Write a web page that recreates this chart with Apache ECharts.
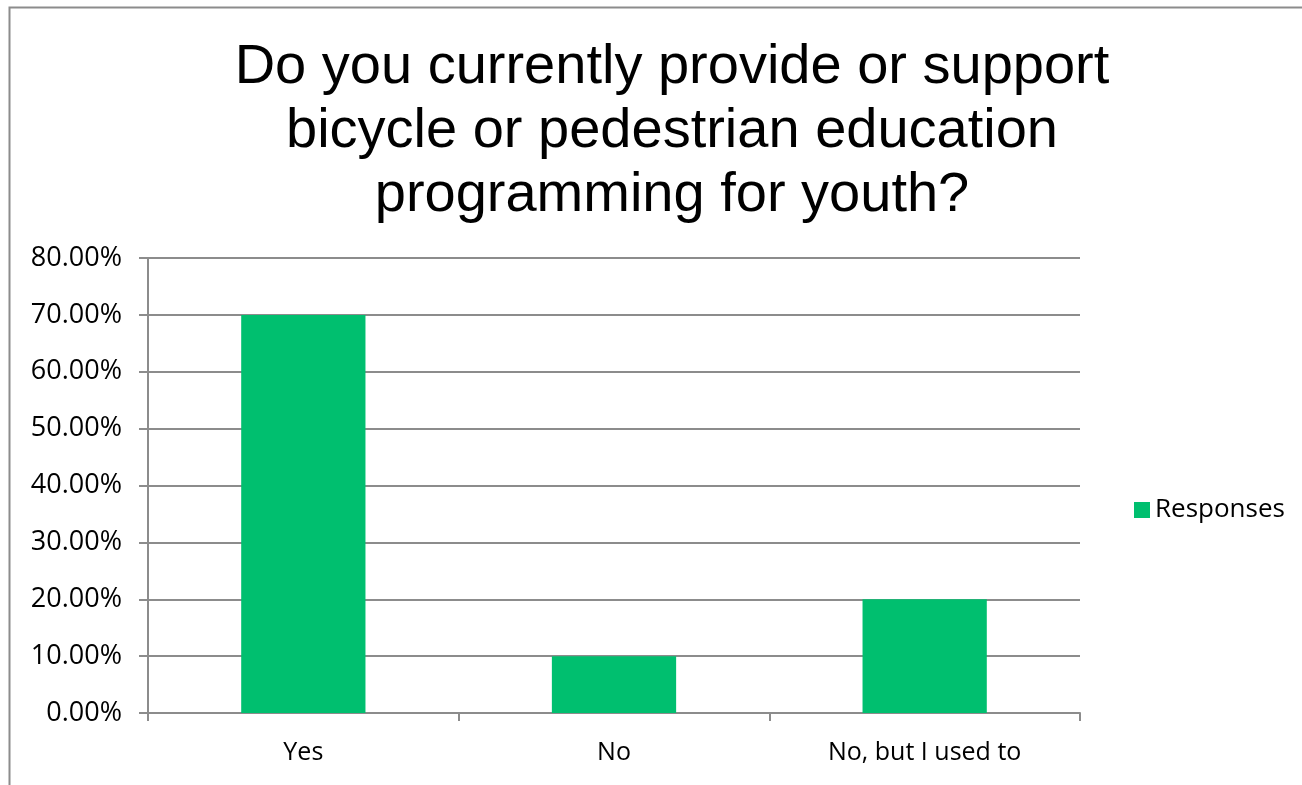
<!DOCTYPE html>
<html>
<head>
<meta charset="utf-8">
<script src="https://cdn.jsdelivr.net/npm/echarts@6/dist/echarts.min.js"></script>
<style>html,body{margin:0;padding:0;background:#fff;}#c{width:1302px;height:785px;}</style>
</head>
<body>
<div id="c"></div>
<script>
const titleText = "Do you currently provide or support\nbicycle or pedestrian education\nprogramming for youth?";
const categories = ["Yes", "No", "No, but I used to"];
const seriesName = "Responses";
const values = [0.70, 0.10, 0.20];
const yMax = 0.8;
const yInterval = 0.1;

const chart = echarts.init(document.getElementById('c'));
chart.setOption({
  animation: false,
  backgroundColor: '#fff',
  graphic: [{
    type: 'rect', left: 7, top: 5, silent: true,
    shape: { width: 1400, height: 900 },
    style: { fill: 'none', stroke: '#8c8c8c', lineWidth: 2 }
  }],
  title: {
    text: titleText,
    left: 667, textAlign: 'center', top: 31,
    textStyle: { fontFamily: 'Liberation Sans', fontSize: 56, fontWeight: 'normal', color: '#000', lineHeight: 64 }
  },
  legend: {
    data: [seriesName],
    left: 1129, top: 492,
    itemWidth: 16, itemHeight: 16, itemGap: 8,
    icon: 'rect',
    textStyle: { fontFamily: 'Open Sans', fontSize: 26, color: '#000' }
  },
  grid: { left: 148, right: 222, top: 258, bottom: 72 },
  xAxis: {
    type: 'category', data: categories,
    axisLine: { lineStyle: { color: '#8c8c8c', width: 2 } },
    axisTick: { show: true, length: 8, alignWithLabel: false, lineStyle: { color: '#8c8c8c', width: 2 } },
    axisLabel: { margin: 27, fontFamily: 'Open Sans', fontSize: 25, color: '#000' }
  },
  yAxis: {
    type: 'value', min: 0, max: yMax, interval: yInterval,
    axisLine: { show: true, lineStyle: { color: '#8c8c8c', width: 2 } },
    axisTick: { show: true, length: 9, lineStyle: { color: '#8c8c8c', width: 2 } },
    splitLine: { show: true, lineStyle: { color: '#8c8c8c', width: 2 } },
    axisLabel: { margin: 26, fontFamily: 'Open Sans', fontSize: 27, color: '#000',
      formatter: v => (v * 100).toFixed(2) + '%' }
  },
  series: [{
    name: seriesName, type: 'bar', data: values,
    barWidth: '40%',
    itemStyle: { color: '#00BF6F' }
  }]
});
</script>
</body>
</html>
